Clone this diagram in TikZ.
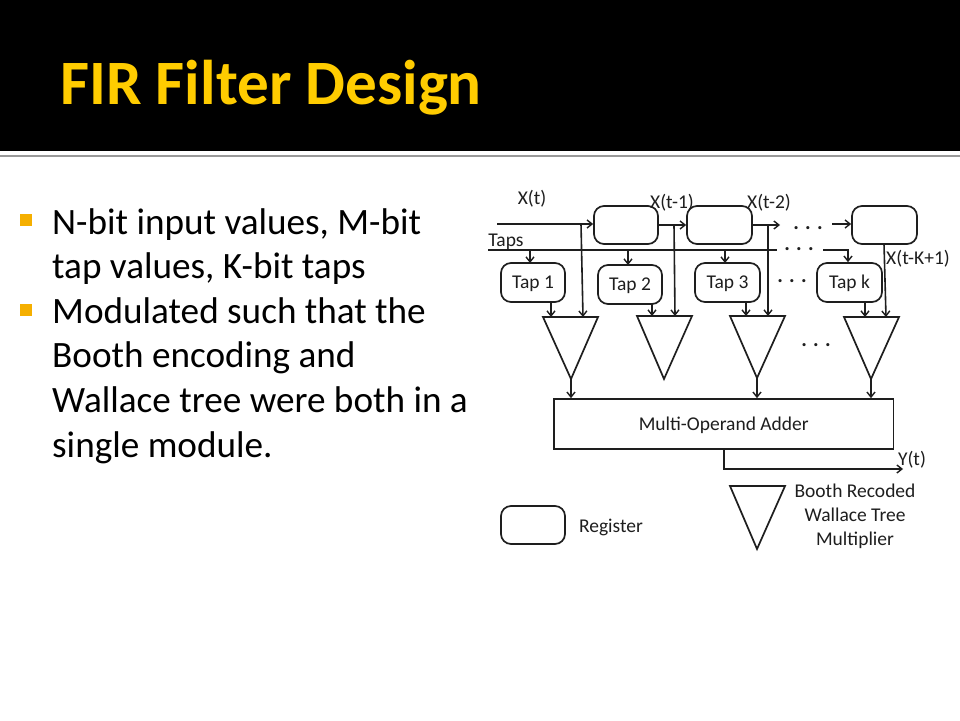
\documentclass[tikz,border=0pt]{standalone}
\usepackage{fontspec}
\setmainfont{Carlito}
\usetikzlibrary{arrows.meta}
\definecolor{titlecol}{HTML}{FFCC00}
\definecolor{bulletcol}{HTML}{F5AF00}
\definecolor{inkcol}{HTML}{1E1E1E}
\tikzset{
  x=1pt,y=-1pt,
  bodytext/.style={anchor=base west,inner sep=0pt,font=\fontsize{37.2}{44}\selectfont,text=black},
  difftext/.style={inner sep=0pt,font=\fontsize{19.5}{21}\selectfont,text=inkcol,text height=15pt,text depth=3pt},
  dottext/.style={anchor=base,inner sep=0pt,font=\fontsize{21}{21}\bfseries\selectfont,text=inkcol},
  regbox/.style={draw=inkcol,line width=1.7pt,rounded corners=10pt,fill=white,difftext},
  triline/.style={draw=inkcol,line width=1.7pt,line join=miter},
  wire/.style={draw=inkcol,line width=1.6pt},
  arrowwire/.style={wire,-{Straight Barb[length=5pt,width=8pt,line width=1.4pt]}},
  bulletmark/.style={fill=bulletcol,draw=none}
}
\newcommand{\regat}[6]{\node[regbox,minimum width=#4pt-#3pt,minimum height=#6pt-#5pt,inner sep=0pt,anchor=center] (#1) at ({(#3+#4)/2},{(#5+#6)/2}) {#2};}
\begin{document}
\begin{tikzpicture}
\useasboundingbox (0,0) rectangle (960,720);
\fill[white] (0,0) rectangle (960,720);
\fill[black] (0,0) rectangle (960,151);
\fill[gray!80] (0,155) rectangle (960,157);
\node[anchor=base west,inner sep=0pt,font=\fontsize{63.2}{70}\bfseries\selectfont,text=titlecol] (title) at (60,104) {FIR Filter Design};
\fill[bulletmark] (20,214) rectangle (32,226);
\fill[bulletmark] (20,304) rectangle (32,316);
\node[bodytext] (l1) at (52,234) {N-bit input values, M-bit};
\node[bodytext] (l2) at (52,278) {tap values, K-bit taps};
\node[bodytext] (l3) at (52,323) {Modulated such that the};
\node[bodytext] (l4) at (52,367) {Booth encoding and};
\node[bodytext] (l5) at (52,412) {Wallace tree were both in a};
\node[bodytext] (l6) at (52,457) {single module.};
% registers
\regat{r1}{}{594}{658}{206}{244}
\regat{r2}{}{687}{752}{206}{244}
\regat{r3}{}{852}{917}{206}{244}
\regat{rl}{}{501}{565}{506}{544}
% taps
\regat{t1}{Tap 1}{501}{565}{263}{302}
\regat{t2}{Tap 2}{598}{662}{265}{304}
\regat{t3}{Tap 3}{695}{760}{263}{302}
\regat{t4}{Tap k}{817}{882}{263}{302}
% multipliers
\coordinate (m1a) at (543,317); \coordinate (m1b) at (598,317); \coordinate (m1c) at (571,379);
\coordinate (m2a) at (637,316); \coordinate (m2b) at (692,316); \coordinate (m2c) at (664,379);
\coordinate (m3a) at (730,316); \coordinate (m3b) at (785,316); \coordinate (m3c) at (757,378);
\coordinate (m4a) at (844,317); \coordinate (m4b) at (899,317); \coordinate (m4c) at (871,379);
\coordinate (mla) at (730,486); \coordinate (mlb) at (785,486); \coordinate (mlc) at (757,549);
\foreach \m in {m1,m2,m3,m4,ml} \draw[triline] (\m a) -- (\m b) -- (\m c) -- cycle;
% adder
\node[draw=inkcol,line width=1.7pt,minimum width=339.5pt,minimum height=50pt,inner sep=0pt,difftext] (adder) at (723.75,424) {Multi-Operand Adder};
% labels
\node[difftext] (xt) at (532,198) {X(t)};
\node[difftext] (x1) at (672,202) {X(t-1)};
\node[difftext] (x2) at (769,202) {X(t-2)};
\node[difftext] (xk) at (918,258) {X(t-K+1)};
\node[difftext] (tp) at (506,240) {Taps};
\node[difftext] (yt) at (912,459) {Y(t)};
\node[difftext] (rg) at (611,526) {Register};
\node[difftext] (b1) at (855,491) {Booth Recoded};
\node[difftext] (b2) at (855,515) {Wallace Tree};
\node[difftext] (b3) at (855,539) {Multiplier};
\node[dottext] (d1) at (808,229) {. . .};
\node[dottext] (d2) at (799,250) {. . .};
\node[dottext] (d3) at (792,282) {. . .};
\node[dottext] (d4) at (816,346) {. . .};
% free ends
\coordinate (in) at (497,224);
\coordinate (j1) at (581,224);
\coordinate (j1b) at (583,317);
\coordinate (j2) at (674,225);
\coordinate (j2b) at (675,316);
\coordinate (o2) at (780,225);
\coordinate (j3) at (768,225);
\coordinate (j3b) at (768,316);
\coordinate (i3) at (832,224);
\coordinate (k1) at (884,244);
\coordinate (k2) at (886,317);
\coordinate (ba) at (488,250);
\coordinate (bb) at (777,250);
\coordinate (bc) at (823,250);
\coordinate (bd) at (848,250);
\draw[arrowwire] (in) -- (r1.west |- in);
\draw[arrowwire] (j1) -- (j1b);
\draw[arrowwire] (r1.east |- j2) -- (r2.west |- j2);
\draw[arrowwire] (j2) -- (j2b);
\draw[arrowwire] (r2.east |- o2) -- (o2);
\draw[arrowwire] (j3) -- (j3b);
\draw[arrowwire] (i3) -- (r3.west |- i3);
\draw[arrowwire] (k1) -- (k2);
\draw[wire] (ba) -- (bb);
\draw[arrowwire] (bc) -- (bd) -- (bd |- t4.north);
\draw[arrowwire] (530,250) -- (530,263);
\draw[arrowwire] (628,250) -- (628,265);
\draw[arrowwire] (725,250) -- (725,263);
\draw[arrowwire] (551,302) -- (551,317);
\draw[arrowwire] (652,304) -- (652,316);
\draw[arrowwire] (746,302) -- (746,316);
\draw[arrowwire] (865,302) -- (865,317);
\draw[arrowwire] (m1c) -- (m1c |- adder.north);
\draw[arrowwire] (m3c) -- (m3c |- adder.north);
\draw[arrowwire] (m4c) -- (m4c |- adder.north);
\coordinate (ya) at (724,449);
\coordinate (yb) at (724,469);
\coordinate (yc) at (903,469);
\draw[arrowwire] (ya) -- (yb) -- (yc);
\end{tikzpicture}
\end{document}
